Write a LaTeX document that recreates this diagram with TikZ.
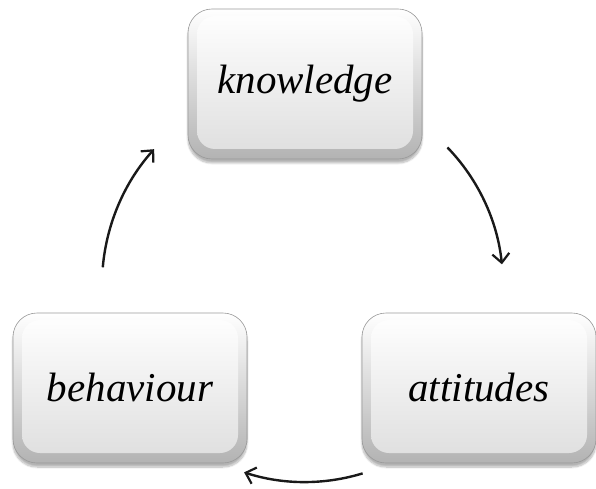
\documentclass[tikz,border=0pt]{standalone}
\usepackage{fontspec}
\setmainfont{Liberation Serif}
\usetikzlibrary{arrows.meta,shadows.blur}
\begin{document}
\begin{tikzpicture}[x=1pt,y=1pt]
\tikzset{
 box/.style={rounded corners=24pt, minimum width=234pt, minimum height=150pt,
   draw=black!40, line width=0.6pt, top color=white, bottom color=black!30,
   blur shadow={shadow xshift=0pt, shadow yshift=-4pt, shadow blur steps=10, shadow opacity=30},
   font=\fontsize{41}{41}\selectfont\itshape, text=black,
   path picture={\shade[top color=white, bottom color=black!13, rounded corners=18pt]
     ([xshift=9pt,yshift=-7pt]path picture bounding box.north west) rectangle
     ([xshift=-9pt,yshift=10pt]path picture bounding box.south east);}},
 arr/.style={-{Straight Barb[length=9pt,width=17pt,line width=2.2pt]}, line width=2.4pt, black!90}
}
\useasboundingbox (0,0) rectangle (596,488);
\node[box] (k) at (305,404) {knowledge};
\node[box] (b) at (130,100) {behaviour};
\node[box] (a) at (479,100) {attitudes};
\coordinate (c) at (305,203);
\coordinate (s1) at ([shift={(175:203)}]c);
\coordinate (s2) at ([shift={(44:198)}]c);
\coordinate (s3) at ([shift={(-73:197)}]c);
\draw[arr] (s1) arc[start angle=175, end angle=138, radius=203];
\draw[arr] (s2) arc[start angle=44, end angle=6, radius=198];
\draw[arr] (s3) arc[start angle=-73, end angle=-108, radius=197];
\end{tikzpicture}
\end{document}
